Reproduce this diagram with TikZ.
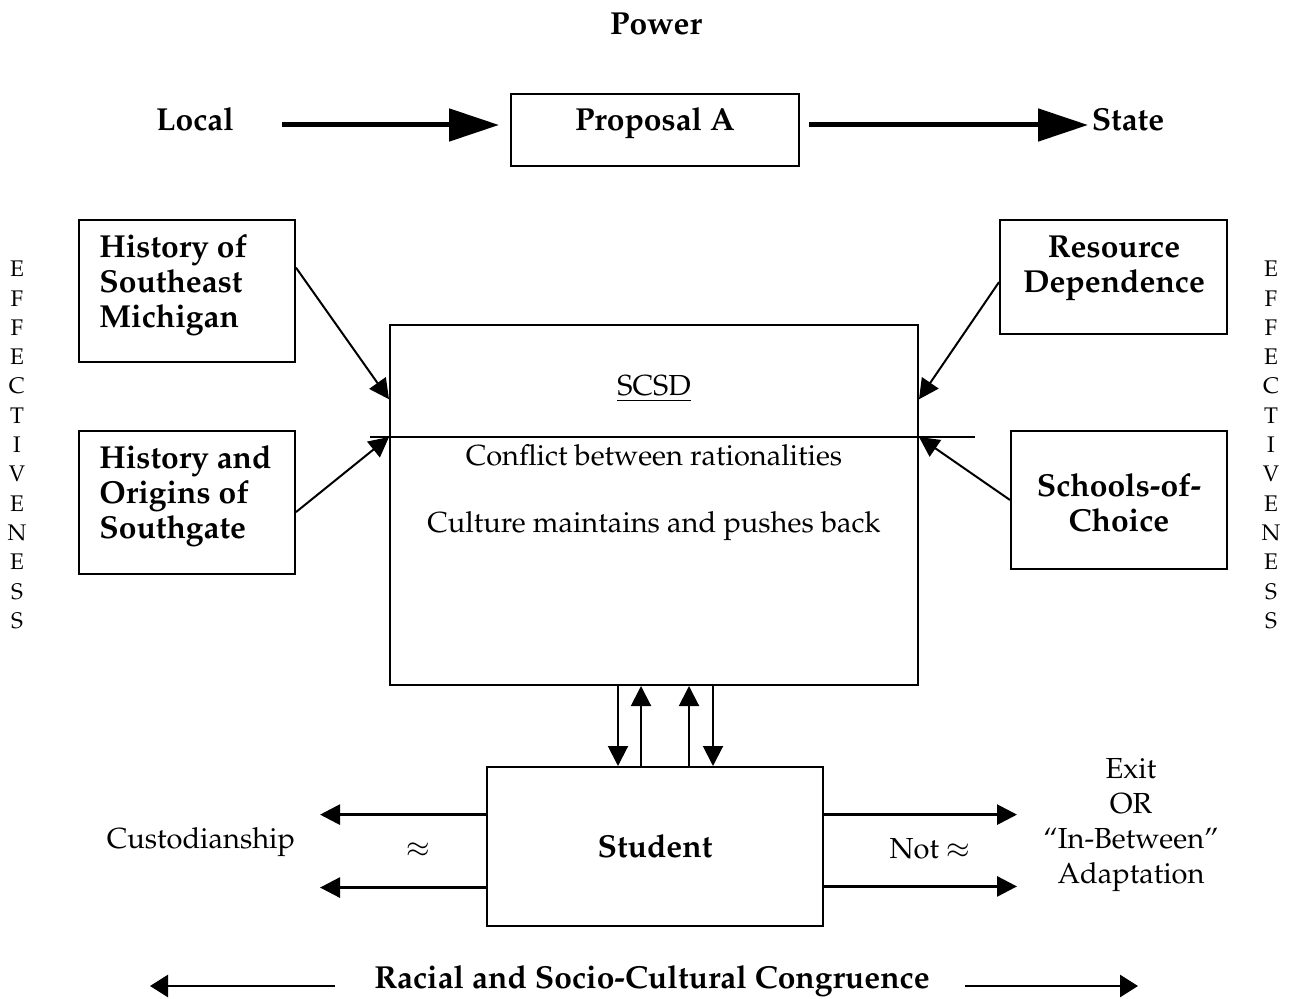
\documentclass[tikz,border=0pt]{standalone}
\usepackage[T1]{fontenc}
\usepackage{mathpazo}
\usetikzlibrary{arrows.meta,calc}

\begin{document}
\begin{tikzpicture}[x=0.5pt,y=-0.5pt,
  box/.style={draw,line width=1pt,rectangle,inner sep=0pt},
  txt/.style={font=\fontsize{14.5}{17.5}\selectfont,inner sep=0pt},
  btxt/.style={font=\fontsize{15.9}{17.5}\selectfont\bfseries,inner sep=0pt},
  vtxt/.style={font=\fontsize{11.3}{14.65}\selectfont,inner sep=0pt,align=center},
  bigarrow/.style={line width=2.5pt,-{Triangle[length=25pt,width=16pt]}},
  thinarrow/.style={line width=1pt,-{Triangle[length=10pt,width=10pt]}},
  sidearrow/.style={line width=1.4pt,-{Triangle[length=10pt,width=10pt]}},
  lowarrow/.style={line width=1.4pt,-{Triangle[length=9pt,width=11pt]}}]
\useasboundingbox (0,0) rectangle (1294,999);

% title and the local-to-state axis
\node[btxt,anchor=base] (power) at (656,35) {Power};
\node[btxt,anchor=base] (local) at (195,131) {Local};
\node[btxt,anchor=base] (state) at (1128,131) {State};
\node[box,minimum width=144pt,minimum height=36pt] (prop) at (655,130) {};
\node[btxt,anchor=base] (proptxt) at (655,131) {Proposal A};
\coordinate (la) at (282,125);
\coordinate (ra) at (1088,125);
\draw[bigarrow] (la) -- ([xshift=-5.5pt]prop.west |- la);
\draw[bigarrow] ([xshift=4.5pt]prop.east |- ra) -- (ra);

% influences on the district
\node[box,minimum width=108pt,minimum height=71pt] (sem) at (187,291) {};
\node[btxt,anchor=west,align=left] (semtxt) at (99,285) {History of\\Southeast\\Michigan};
\node[box,minimum width=108pt,minimum height=71.5pt] (hos) at (187,502.5) {};
\node[btxt,anchor=west,align=left] (hostxt) at (99,496) {History and\\Origins of\\Southgate};
\node[box,minimum width=113.5pt,minimum height=57pt] (res) at (1113.5,277) {};
\node[btxt,align=center] (restxt) at (1114,268) {Resource\\Dependence};
\node[box,minimum width=108pt,minimum height=69pt] (soc) at (1119,500) {};
\node[btxt,align=center] (soctxt) at (1119,503) {Schools-of-\\Choice};

% the district
\node[box,minimum width=264pt,minimum height=180pt] (scsd) at (654,505) {};
\coordinate (divL) at (370,437);
\coordinate (divR) at (975,437);
\draw[line width=1pt] (divL) -- (divR);
\node[txt,anchor=base] (scsdtxt) at (654,396) {\underline{SCSD}};
\node[txt,anchor=base] (conflict) at (654,466) {Conflict between rationalities};
\node[txt,anchor=base] (culture) at (654,532) {Culture maintains and pushes back};

\draw[thinarrow] ($(sem.north east)!0.338!(sem.south east)$) -- ($(scsd.north west)!0.208!(scsd.south west)$);
\draw[thinarrow] ($(hos.north east)!0.566!(hos.south east)$) -- (scsd.west |- divL);
\draw[thinarrow] ($(res.north west)!0.544!(res.south west)$) -- ($(scsd.north east)!0.208!(scsd.south east)$);
\draw[thinarrow] (soc.west) -- (scsd.east |- divR);

% effectiveness side labels
\node[vtxt] (effL) at (17,445) {E\\F\\F\\E\\C\\T\\I\\V\\E\\N\\E\\S\\S};
\node[vtxt] (effR) at (1271,445) {E\\F\\F\\E\\C\\T\\I\\V\\E\\N\\E\\S\\S};

% the student and exchanges with the district
\node[box,minimum width=168pt,minimum height=79.5pt] (stu) at (655,846.5) {};
\node[btxt,anchor=base] (stutxt) at (655,857) {Student};
\coordinate (v1) at (618,0);
\coordinate (v2) at (641,0);
\coordinate (v3) at (689,0);
\coordinate (v4) at (713,0);
\draw[thinarrow] (scsd.south -| v1) -- (stu.north -| v1);
\draw[thinarrow] (stu.north -| v2) -- (scsd.south -| v2);
\draw[thinarrow] (stu.north -| v3) -- (scsd.south -| v3);
\draw[thinarrow] (scsd.south -| v4) -- (stu.north -| v4);

% outcomes
\coordinate (cl) at (320,0);
\coordinate (cr) at (1017,0);
\coordinate (sl1) at ($(stu.north west)!0.302!(stu.south west)$);
\coordinate (sl2) at ($(stu.north west)!0.755!(stu.south west)$);
\coordinate (sr1) at ($(stu.north east)!0.302!(stu.south east)$);
\coordinate (sr2) at ($(stu.north east)!0.748!(stu.south east)$);
\draw[sidearrow] (sl1) -- (sl1 -| cl);
\draw[sidearrow] (sl2) -- (sl2 -| cl);
\draw[sidearrow] (sr1) -- (sr1 -| cr);
\draw[sidearrow] (sr2) -- (sr2 -| cr);
\node[txt,anchor=base] (cust) at (201,848) {Custodianship};
\node[txt] (approx) at (418,850) {$\approx$};
\node[txt,anchor=base] (notapprox) at (930,858) {Not $\approx$};
\node[txt,align=center] (exit) at (1131,825) {Exit\\OR\\``In-Between''\\Adaptation};

% congruence axis
\node[btxt,anchor=base] (cong) at (652,988) {Racial and Socio-Cultural Congruence};
\coordinate (ca) at (335,986);
\coordinate (cb) at (150,986);
\coordinate (cc) at (965,986);
\coordinate (cd) at (1138,986);
\draw[lowarrow] (ca) -- (cb);
\draw[lowarrow] (cc) -- (cd);
\end{tikzpicture}
\end{document}
